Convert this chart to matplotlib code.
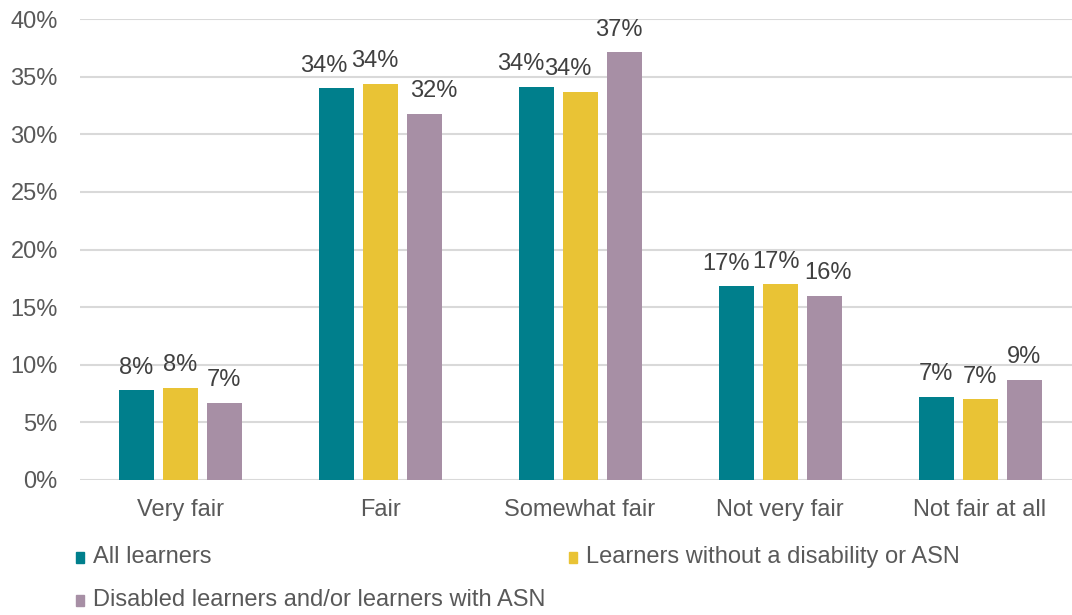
import numpy as np
import matplotlib.pyplot as plt
from matplotlib.patches import Rectangle
from matplotlib.transforms import offset_copy

plt.rcParams['font.family'] = ['Liberation Sans', 'DejaVu Sans']

categories = ["Very fair", "Fair", "Somewhat fair", "Not very fair", "Not fair at all"]
series_names = ["All learners",
                "Learners without a disability or ASN",
                "Disabled learners and/or learners with ASN"]
all_learners = [7.8, 34.0, 34.1, 16.8, 7.2]
no_disability = [8.0, 34.4, 33.7, 17.0, 7.0]
disabled_asn = [6.7, 31.8, 37.1, 16.0, 8.7]
colors = ["#007f8c", "#e9c335", "#a78fa5"]

# horizontal nudges (pixels) so neighbouring value labels don't collide
label_shift = [
    [0, -12, -15, -10, 0],
    [0, -5, -12, -4, 0],
    [0, 10, -5, 4, 0],
]

fig = plt.figure(figsize=(10.72, 6.15), dpi=100)
W, H = 1072, 615
ax = fig.add_axes([80 / W, 1 - 480 / H, 1000 / W, (480 - 19) / H])

x = np.arange(len(categories))
width = 0.175
step = 0.22
for k, (vals, c) in enumerate(zip([all_learners, no_disability, disabled_asn], colors)):
    pos = x + (k - 1) * step
    ax.bar(pos, vals, width, color=c, zorder=3)
    for p, v, dx in zip(pos, vals, label_shift[k]):
        tr = offset_copy(ax.transData, fig=fig, x=dx * 0.72, y=0, units="points")
        ax.text(p, v + 1.0, f"{round(v):.0f}%", ha="center", va="bottom",
                fontsize=17, color="#404040", transform=tr)

ax.set_xlim(-0.5, 4.5)
ax.set_ylim(0, 40)
ax.set_yticks(np.arange(0, 41, 5))
ax.set_yticklabels([f"{t}%" for t in range(0, 41, 5)])
ax.set_xticks(x)
ax.set_xticklabels(categories)
ax.tick_params(length=0, labelsize=17, labelcolor="#595959")
ax.tick_params(axis="x", pad=14)
ax.tick_params(axis="y", pad=16)
ax.grid(axis="y", color="#d9d9d9", linewidth=1.5, zorder=0)
for s in ax.spines.values():
    s.set_visible(False)

# legend drawn by hand: two entries on the first row, one on the second
legend_pos = [(76, 557), (569, 557), (76, 600)]
for name, c, (lx, ly) in zip(series_names, colors, legend_pos):
    fig.add_artist(Rectangle((lx / W, 1 - (ly + 6) / H), 8 / W, 11 / H,
                             transform=fig.transFigure, color=c))
    fig.text((lx + 17) / W, 1 - ly / H, name, fontsize=17, color="#595959",
             va="center", ha="left")

fig.savefig("out.png", dpi=100)
